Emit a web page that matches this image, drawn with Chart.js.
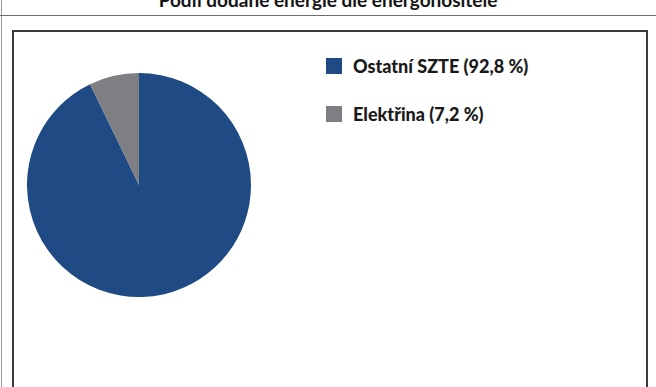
<!DOCTYPE html>
<html lang="cs">
<head>
<meta charset="utf-8">
<title>Podíl dodané energie dle energonositele</title>
<script src="https://cdn.jsdelivr.net/npm/chart.js@4"></script>
<style>
  body { margin: 0; width: 656px; height: 387px; background: #fff; position: relative; overflow: hidden; font-family: Lato, "Open Sans", sans-serif; }
  #title { position: absolute; left: 0; width: 656px; top: -12px; text-align: center; font-weight: bold; font-size: 19px; color: #141414; white-space: nowrap; }
  #rule { position: absolute; left: 0; top: 15px; width: 656px; border-top: 1px solid #6f6f6f; }
  #edge { position: absolute; left: 1px; top: 0; height: 387px; border-left: 1px solid #9a9a9a; }
  #frame { position: absolute; left: 12px; top: 30px; width: 632px; height: 400px; border: 2px solid #3a3a3a; }
  #pie { position: absolute; left: 27px; top: 73px; }
  #legend { position: absolute; left: 326px; top: 57px; }
  .item { display: flex; align-items: center; height: 18px; margin-bottom: 30px; font-weight: 900; font-size: 18px; color: #1a1a1a; white-space: nowrap; }
  .swatch { width: 16px; height: 16px; margin-right: 11px; flex: none; }
</style>
</head>
<body>
<div id="edge"></div>
<div id="title">Podíl dodané energie dle energonositele</div>
<div id="rule"></div>
<div id="frame"></div>
<canvas id="pie" width="224" height="224"></canvas>
<div id="legend"></div>
<script>
// energy carriers and their share (%)
const carriers = ['Ostatní SZTE', 'Elektřina'];
const shares = [92.8, 7.2];
const colors = ['#1f4a84', '#7e7f82'];

// legend: "label (xx,x %)"
const legend = document.getElementById('legend');
carriers.forEach((name, i) => {
  const row = document.createElement('div');
  row.className = 'item';
  const sw = document.createElement('span');
  sw.className = 'swatch';
  sw.style.background = colors[i];
  const txt = document.createElement('span');
  txt.textContent = name + ' (' + shares[i].toFixed(1).replace('.', ',') + ' %)';
  row.appendChild(sw);
  row.appendChild(txt);
  legend.appendChild(row);
});

const ctx = document.getElementById('pie').getContext('2d');
const chart = new Chart(ctx, {
  type: 'pie',
  data: {
    labels: carriers,
    datasets: [{
      data: shares,
      backgroundColor: colors,
      borderWidth: 0
    }]
  },
  options: {
    responsive: false,
    animation: false,
    layout: { padding: 0 },
    plugins: {
      legend: { display: false },
      tooltip: { enabled: false }
    }
  }
});
</script>
</body>
</html>
